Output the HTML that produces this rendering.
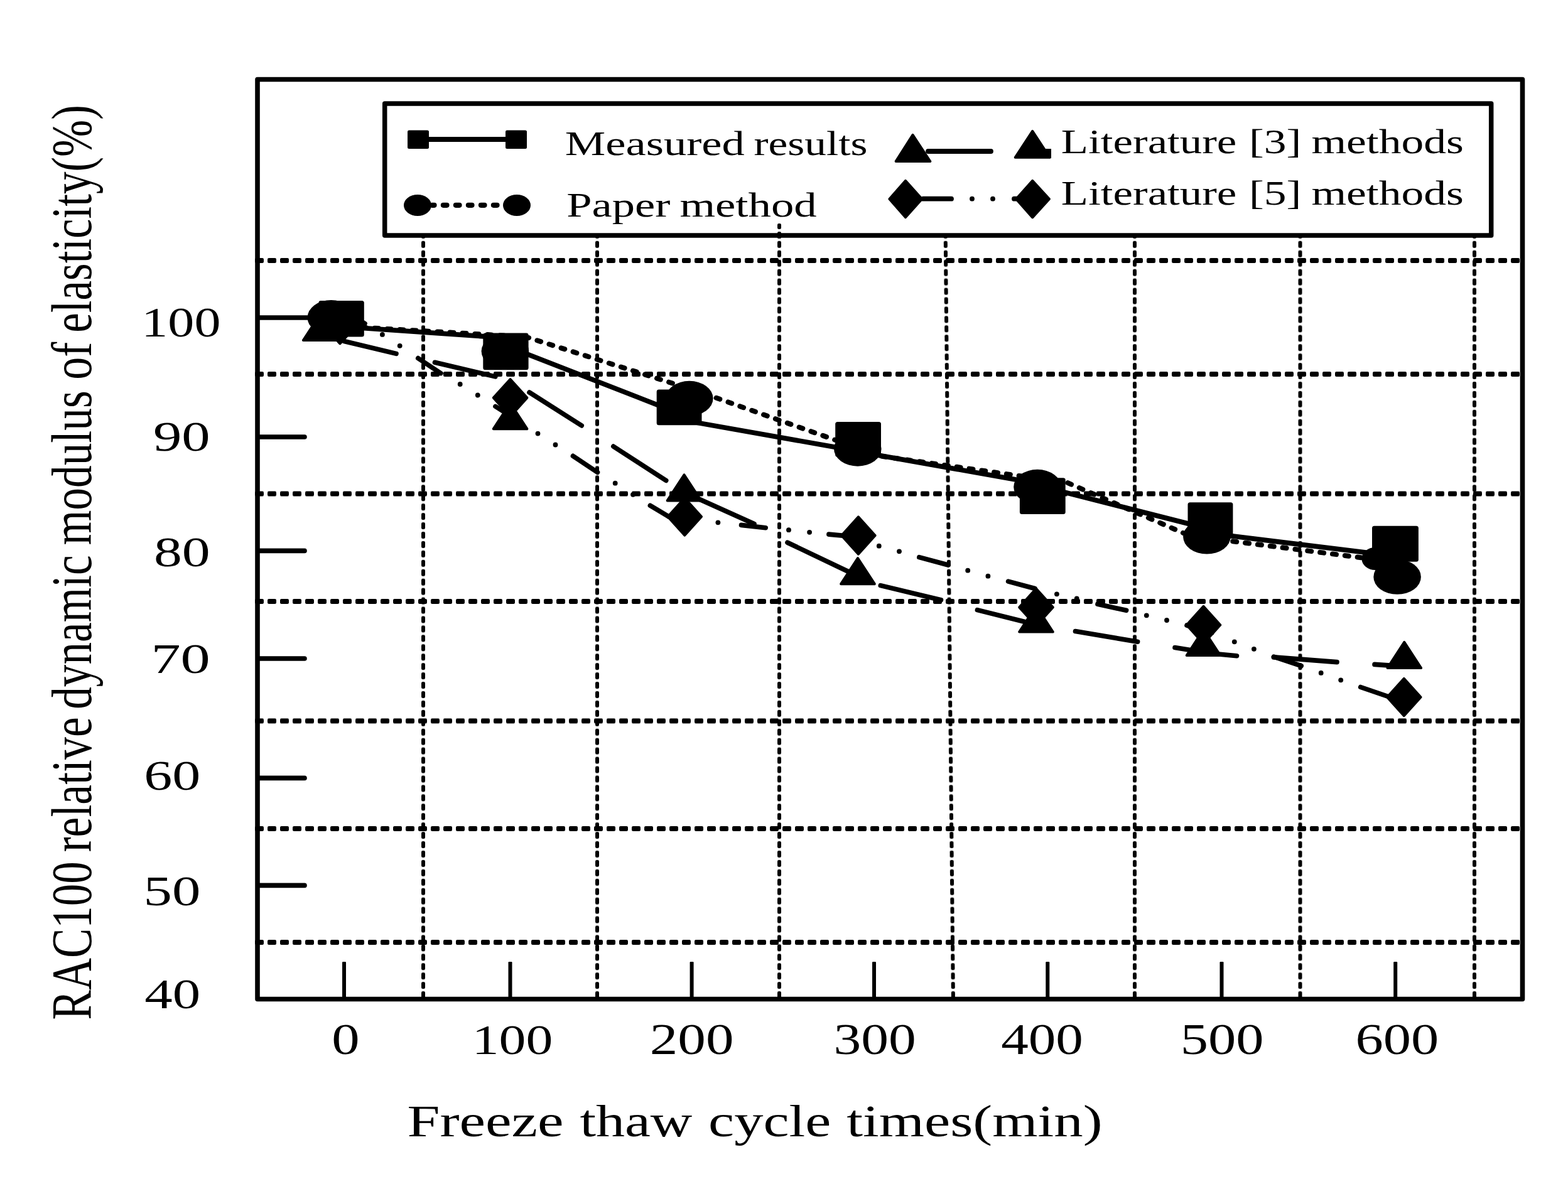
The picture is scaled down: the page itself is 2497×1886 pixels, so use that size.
<!DOCTYPE html>
<html><head><meta charset="utf-8"><title>RAC100 relative dynamic modulus of elasticity</title>
<style>html,body{margin:0;padding:0;background:#fff;} svg{display:block;}</style></head>
<body>
<svg width="2497" height="1886" viewBox="0 0 2497 1886"><defs><pattern id="h0" patternUnits="userSpaceOnUse" x="406" y="411" width="20" height="8"><rect x="0" y="0" width="14" height="8" rx="2.2"/></pattern><pattern id="h1" patternUnits="userSpaceOnUse" x="406" y="592" width="20" height="8"><rect x="0" y="0" width="14" height="8" rx="2.2"/></pattern><pattern id="h2" patternUnits="userSpaceOnUse" x="406" y="782.5" width="20" height="8"><rect x="0" y="0" width="14" height="8" rx="2.2"/></pattern><pattern id="h3" patternUnits="userSpaceOnUse" x="406" y="954" width="20" height="8"><rect x="0" y="0" width="14" height="8" rx="2.2"/></pattern><pattern id="h4" patternUnits="userSpaceOnUse" x="406" y="1144.4" width="20" height="8"><rect x="0" y="0" width="14" height="8" rx="2.2"/></pattern><pattern id="h5" patternUnits="userSpaceOnUse" x="406" y="1316" width="20" height="8"><rect x="0" y="0" width="14" height="8" rx="2.2"/></pattern><pattern id="h6" patternUnits="userSpaceOnUse" x="406" y="1497" width="20" height="8"><rect x="0" y="0" width="14" height="8" rx="2.2"/></pattern><pattern id="v0" patternUnits="userSpaceOnUse" x="671" y="354" width="6" height="14.94"><rect x="0" y="0" width="6" height="11" rx="2.2"/></pattern><pattern id="v1" patternUnits="userSpaceOnUse" x="948" y="354" width="6" height="14.94"><rect x="0" y="0" width="6" height="11" rx="2.2"/></pattern><pattern id="v2" patternUnits="userSpaceOnUse" x="1238" y="354" width="6" height="14.94"><rect x="0" y="0" width="6" height="11" rx="2.2"/></pattern><pattern id="v3" patternUnits="userSpaceOnUse" x="0" y="354" width="6" height="14.94" patternTransform="matrix(1,0,0.010049,1,1498.94,0)"><rect x="0" y="0" width="6" height="11" rx="2.2"/></pattern><pattern id="v4" patternUnits="userSpaceOnUse" x="1804" y="354" width="6" height="14.94"><rect x="0" y="0" width="6" height="11" rx="2.2"/></pattern><pattern id="v5" patternUnits="userSpaceOnUse" x="2067.5" y="354" width="6" height="14.94"><rect x="0" y="0" width="6" height="11" rx="2.2"/></pattern><pattern id="v6" patternUnits="userSpaceOnUse" x="2345" y="354" width="6" height="14.94"><rect x="0" y="0" width="6" height="11" rx="2.2"/></pattern></defs><rect width="100%" height="100%" fill="#fff"/><g fill="#000" stroke="none">
<rect x="406" y="411" width="2015" height="8" fill="url(#h0)"/>
<rect x="406" y="592" width="2015" height="8" fill="url(#h1)"/>
<rect x="406" y="782.5" width="2015" height="8" fill="url(#h2)"/>
<rect x="406" y="954" width="2015" height="8" fill="url(#h3)"/>
<rect x="406" y="1144.4" width="2015" height="8" fill="url(#h4)"/>
<rect x="406" y="1316" width="2015" height="8" fill="url(#h5)"/>
<rect x="406" y="1497" width="2015" height="8" fill="url(#h6)"/>
<rect x="671" y="354" width="6" height="1234" fill="url(#v0)"/>
<rect x="948" y="354" width="6" height="1234" fill="url(#v1)"/>
<rect x="1238" y="354" width="6" height="1234" fill="url(#v2)"/>
<path d="M1502.5,354 L1508.5,354 L1520.9,1588 L1514.9,1588 Z" fill="url(#v3)"/>
<rect x="1804" y="354" width="6" height="1234" fill="url(#v4)"/>
<rect x="2067.5" y="354" width="6" height="1234" fill="url(#v5)"/>
<rect x="2345" y="354" width="6" height="1234" fill="url(#v6)"/>
</g>
<g stroke="#000" fill="none">
<line x1="550" y1="520.61" x2="790" y2="537.17" stroke-width="7.8" stroke-linecap="round"/>
<line x1="830" y1="560.34" x2="1060" y2="650.04" stroke-width="7.8" stroke-linecap="round"/>
<line x1="1100" y1="671.52" x2="1345" y2="714.89" stroke-width="7.8" stroke-linecap="round"/>
<line x1="1390" y1="723.66" x2="1630" y2="766.14" stroke-width="7.8" stroke-linecap="round"/>
<line x1="1680" y1="780.22" x2="1905" y2="837.37" stroke-width="7.8" stroke-linecap="round"/>
<line x1="1950" y1="852.45" x2="2200" y2="883.2" stroke-width="7.8" stroke-linecap="round"/>
<line x1="527" y1="518.8" x2="837.2" y2="536.5" stroke-width="8" stroke-linecap="round" stroke-dasharray="6 14" stroke-dashoffset="-9.8"/>
<line x1="837.2" y1="536.5" x2="1109" y2="622.6" stroke-width="8" stroke-linecap="round" stroke-dasharray="6 14" stroke-dashoffset="0.9"/>
<line x1="1109" y1="622.6" x2="1402.5" y2="726.5" stroke-width="8" stroke-linecap="round" stroke-dasharray="6 14" stroke-dashoffset="6.4"/>
<line x1="1402.5" y1="726.5" x2="1700" y2="769" stroke-width="8" stroke-linecap="round" stroke-dasharray="6 14" stroke-dashoffset="-2.4"/>
<line x1="1700" y1="769" x2="1895" y2="853.6" stroke-width="8" stroke-linecap="round" stroke-dasharray="6 14" stroke-dashoffset="-0.5"/>
<line x1="1895" y1="853.6" x2="2200" y2="892.3" stroke-width="8" stroke-linecap="round" stroke-dasharray="6 14" stroke-dashoffset="-8.8"/>
<line x1="548" y1="543.5" x2="631" y2="563.4" stroke-width="7.6" stroke-linecap="round"/>
<line x1="692.5" y1="577.3" x2="788.8" y2="599.9" stroke-width="7.6" stroke-linecap="round"/>
<line x1="843" y1="625" x2="926.2" y2="677.9" stroke-width="7.6" stroke-linecap="round"/>
<line x1="976.8" y1="711.1" x2="1060.7" y2="765.4" stroke-width="7.6" stroke-linecap="round"/>
<line x1="1100" y1="789" x2="1201" y2="834.5" stroke-width="7.6" stroke-linecap="round"/>
<line x1="1254" y1="864.2" x2="1352" y2="911" stroke-width="7.6" stroke-linecap="round"/>
<line x1="1402.3" y1="932.6" x2="1498.5" y2="955.7" stroke-width="7.6" stroke-linecap="round"/>
<line x1="1556.4" y1="971.6" x2="1632" y2="990.5" stroke-width="7.6" stroke-linecap="round"/>
<line x1="1712.5" y1="1005.6" x2="1811.6" y2="1022.2" stroke-width="7.6" stroke-linecap="round"/>
<line x1="1871" y1="1031.6" x2="1905" y2="1037" stroke-width="7.6" stroke-linecap="round"/>
<line x1="1930" y1="1041" x2="1969.5" y2="1044.7" stroke-width="7.6" stroke-linecap="round"/>
<line x1="2028.4" y1="1046.9" x2="2129" y2="1054.6" stroke-width="7.6" stroke-linecap="round"/>
<line x1="2189" y1="1058.4" x2="2222" y2="1060.6" stroke-width="7.6" stroke-linecap="round"/>
<line x1="560" y1="502" x2="581" y2="515.5" stroke-width="7.6" stroke-linecap="round"/>
<line x1="665.8" y1="570.6" x2="701.9" y2="594.6" stroke-width="7.6" stroke-linecap="round"/>
<line x1="789" y1="647.4" x2="826" y2="670.9" stroke-width="7.6" stroke-linecap="round"/>
<line x1="912.5" y1="726.3" x2="951.5" y2="752.4" stroke-width="7.6" stroke-linecap="round"/>
<line x1="1035.4" y1="805.2" x2="1065.5" y2="823.3" stroke-width="7.6" stroke-linecap="round"/>
<line x1="1065.5" y1="823.3" x2="1075" y2="824.5" stroke-width="7.6" stroke-linecap="round"/>
<line x1="1180.5" y1="836.4" x2="1219.2" y2="840.7" stroke-width="7.6" stroke-linecap="round"/>
<line x1="1319.9" y1="851.1" x2="1362" y2="855" stroke-width="7.6" stroke-linecap="round"/>
<line x1="1463.8" y1="887.7" x2="1510" y2="900" stroke-width="7.6" stroke-linecap="round"/>
<line x1="1605.6" y1="926.1" x2="1648" y2="937.5" stroke-width="7.6" stroke-linecap="round"/>
<line x1="1748" y1="962.2" x2="1793.6" y2="972.3" stroke-width="7.6" stroke-linecap="round"/>
<line x1="1890" y1="996" x2="1930" y2="1008" stroke-width="7.6" stroke-linecap="round"/>
<line x1="2028.4" y1="1046.1" x2="2072.2" y2="1060.7" stroke-width="7.6" stroke-linecap="round"/>
<line x1="2166.7" y1="1094.5" x2="2212" y2="1110" stroke-width="7.6" stroke-linecap="round"/>
</g>
<g fill="#000">
<circle cx="608.9" cy="532.9" r="3.9"/>
<circle cx="636.7" cy="550.8" r="3.9"/>
<circle cx="732.7" cy="612" r="3.9"/>
<circle cx="760.8" cy="629.5" r="3.9"/>
<circle cx="856.5" cy="690.6" r="3.9"/>
<circle cx="884.5" cy="708.5" r="3.9"/>
<circle cx="979.7" cy="769.7" r="3.9"/>
<circle cx="1008" cy="787.8" r="3.9"/>
<circle cx="1107" cy="828" r="3.9"/>
<circle cx="1143.4" cy="832.3" r="3.9"/>
<circle cx="1256" cy="844.2" r="3.9"/>
<circle cx="1289.1" cy="847.8" r="3.9"/>
<circle cx="1399.8" cy="869.7" r="3.9"/>
<circle cx="1432" cy="878.3" r="3.9"/>
<circle cx="1541.2" cy="908.7" r="3.9"/>
<circle cx="1573.4" cy="917.7" r="3.9"/>
<circle cx="1682.9" cy="946.3" r="3.9"/>
<circle cx="1714.7" cy="953.5" r="3.9"/>
<circle cx="1825.8" cy="980.3" r="3.9"/>
<circle cx="1858" cy="988" r="3.9"/>
<circle cx="1965.8" cy="1022.3" r="3.9"/>
<circle cx="1996.9" cy="1033.8" r="3.9"/>
<circle cx="2103.7" cy="1071.9" r="3.9"/>
<circle cx="2135.2" cy="1083.3" r="3.9"/>
</g>
<g fill="#000" stroke="#000" stroke-width="2" stroke-linejoin="round">
<polygon points="482.89,542.1 509.7,500.96 536.51,542.1" stroke-width="4"/>
<polygon points="541.4,487.9 568.21,517.6 541.4,547.3 514.59,517.6" stroke-width="4"/>
<ellipse cx="527.3" cy="505.8" rx="37.8" ry="27.8" stroke="none"/>
<rect x="507.5" y="479" width="72.3" height="57.5" rx="3.5" stroke="none"/>
<polygon points="812.6,604 839.41,633.7 812.6,663.4 785.79,633.7" stroke-width="4"/>
<polygon points="785.79,683.2 812.6,642.06 839.41,683.2" stroke-width="4"/>
<ellipse cx="804.4" cy="559.5" rx="37.8" ry="27.8" stroke="none"/>
<rect x="769.3" y="530.6" width="72.3" height="58.7" rx="3.5" stroke="none"/>
<polygon points="1090.3,793.3 1117.11,823 1090.3,852.7 1063.49,823" stroke-width="4"/>
<polygon points="1062.69,797.4 1089.5,756.26 1116.31,797.4" stroke-width="4"/>
<ellipse cx="1097.8" cy="634.6" rx="37.8" ry="27.8" stroke="none"/>
<rect x="1045.7" y="620.4" width="71.8" height="56.9" rx="3.5" stroke="none"/>
<polygon points="1366.9,823.3 1393.71,853 1366.9,882.7 1340.09,853" stroke-width="4"/>
<polygon points="1339.19,930.2 1366,889.06 1392.81,930.2" stroke-width="4"/>
<ellipse cx="1365.8" cy="714.9" rx="37.8" ry="27.8" stroke="none"/>
<rect x="1330.2" y="672" width="72.8" height="55.7" rx="3.5" stroke="none"/>
<polygon points="1650,937.6 1676.81,967.3 1650,997 1623.19,967.3" stroke-width="4"/>
<polygon points="1623.19,1006.5 1650,965.36 1676.81,1006.5" stroke-width="4"/>
<ellipse cx="1652" cy="775.6" rx="37.8" ry="27.8" stroke="none"/>
<rect x="1623.9" y="761.2" width="72.8" height="57.8" rx="3.5" stroke="none"/>
<polygon points="1916.5,965.8 1943.31,995.5 1916.5,1025.2 1889.69,995.5" stroke-width="4"/>
<polygon points="1889.69,1044.1 1916.5,1002.96 1943.31,1044.1" stroke-width="4"/>
<rect x="1891.5" y="800.3" width="71.9" height="57.7" rx="3.5" stroke="none"/>
<ellipse cx="1921.9" cy="854.8" rx="37.8" ry="27.8" stroke="none"/>
<polygon points="2209.49,1064.1 2236.3,1022.96 2263.11,1064.1" stroke-width="4"/>
<polygon points="2235.8,1080.8 2262.61,1110.5 2235.8,1140.2 2208.99,1110.5" stroke-width="4"/>
<ellipse cx="2190" cy="890" rx="21.5" ry="18" stroke="none"/>
<rect x="2185" y="837.8" width="73.9" height="57" rx="3.5" stroke="none"/>
<ellipse cx="2225.1" cy="919" rx="37.8" ry="27.8" stroke="none"/>
</g>
<g fill="#000">
<rect x="410" y="126.5" width="2014.5" height="1465" fill="none" stroke="#000" stroke-width="7.6" stroke-linejoin="round"/>
</g>
<g stroke="#000" stroke-linecap="round" fill="none">
<line x1="412" y1="506" x2="492" y2="506" stroke-width="7.6"/>
<line x1="412" y1="696" x2="485" y2="696" stroke-width="7.6"/>
<line x1="412" y1="877.4" x2="485" y2="877.4" stroke-width="7.6"/>
<line x1="412" y1="1049" x2="485" y2="1049" stroke-width="7.6"/>
<line x1="412" y1="1239.4" x2="485" y2="1239.4" stroke-width="7.6"/>
<line x1="412" y1="1410.4" x2="485" y2="1410.4" stroke-width="7.6"/>
<rect x="545" y="1532" width="6" height="58" rx="1.2" fill="#000" stroke="none"/>
<rect x="809.5" y="1532" width="6" height="58" rx="1.2" fill="#000" stroke="none"/>
<rect x="1098.6" y="1532" width="6" height="58" rx="1.2" fill="#000" stroke="none"/>
<rect x="1389" y="1532" width="6" height="58" rx="1.2" fill="#000" stroke="none"/>
<rect x="1665.3" y="1532" width="6" height="58" rx="1.2" fill="#000" stroke="none"/>
<rect x="1942.5" y="1532" width="6" height="58" rx="1.2" fill="#000" stroke="none"/>
<rect x="2219.2" y="1532" width="6" height="58" rx="1.2" fill="#000" stroke="none"/>
</g>
<rect x="612.7" y="165" width="1762" height="210" fill="#fff" stroke="#000" stroke-width="7.5" stroke-linejoin="round"/>
<rect x="1238" y="356" width="6" height="9" rx="2.2" fill="#000"/><rect x="1238" y="369" width="6" height="11" rx="2.2" fill="#000"/>
<g fill="#000" stroke="#000" stroke-linejoin="round">
<line x1="683" y1="222" x2="805" y2="222" stroke-width="8"/>
<rect x="649" y="207.4" width="34" height="29.6" rx="2.5" stroke="none"/>
<rect x="805" y="207.4" width="34" height="29.6" rx="2.5" stroke="none"/>
<line x1="688" y1="326.8" x2="800" y2="326.8" stroke-width="8.2" stroke-linecap="round" stroke-dasharray="5.6 14.4" stroke-dashoffset="2.1"/>
<ellipse cx="665" cy="327" rx="22" ry="17" stroke="none"/>
<ellipse cx="823" cy="327" rx="22" ry="17" stroke="none"/>
<line x1="1478" y1="241" x2="1578" y2="241" stroke-width="7.8" stroke-linecap="round"/>
<polygon points="1426.65,257 1453.53,214.88 1481.29,257" stroke-width="4"/>
<polygon points="1616.7,250.8 1644.2,208.85 1671.7,250.8" stroke-width="4"/>
<rect x="1664" y="237" width="10" height="15" stroke="none"/>
<line x1="1470" y1="316.7" x2="1515" y2="316.7" stroke-width="7.8" stroke-linecap="round"/>
<circle cx="1548" cy="316.7" r="3.9" stroke="none"/><circle cx="1581" cy="316.7" r="3.9" stroke="none"/>
<line x1="1615" y1="316.7" x2="1625" y2="316.7" stroke-width="7.8" stroke-linecap="round"/>
<polygon points="1442.02,287.91 1468.21,317 1442.02,346.28 1416.36,317" stroke-width="4"/>
<polygon points="1644.22,287.88 1670.99,317 1644.22,346.31 1618.18,317" stroke-width="4"/>
</g>
<g font-family="&quot;Liberation Serif&quot;, serif" font-size="100" fill="#000">
<text transform="matrix(0.7254,0,0,0.5514,899.82,247.35)" x="0" y="0">Measured</text>
<text transform="matrix(0.6930,0,0,0.5514,1200.51,247.35)" x="0" y="0">results</text>
<text transform="matrix(0.7254,0,0,0.5478,902.22,344.80)" x="0" y="0">Paper</text>
<text transform="matrix(0.7279,0,0,0.5478,1082.44,344.80)" x="0" y="0">method</text>
<text transform="matrix(0.7090,0,0,0.5510,1689.87,243.80)" x="0" y="0">Literature</text>
<text transform="matrix(0.7147,0,0,0.5510,1989.00,243.80)" x="0" y="0">[3]</text>
<text transform="matrix(0.7150,0,0,0.5510,2088.47,243.80)" x="0" y="0">methods</text>
<text transform="matrix(0.7090,0,0,0.5510,1689.87,325.80)" x="0" y="0">Literature</text>
<text transform="matrix(0.7147,0,0,0.5510,1989.00,325.80)" x="0" y="0">[5]</text>
<text transform="matrix(0.7150,0,0,0.5510,2088.47,325.80)" x="0" y="0">methods</text>
<text transform="matrix(0.9354,0,0,0.7222,648.39,1809.83)" x="0" y="0">Freeze</text>
<text transform="matrix(0.9202,0,0,0.7222,923.38,1809.83)" x="0" y="0">thaw</text>
<text transform="matrix(0.9251,0,0,0.7222,1128.10,1809.83)" x="0" y="0">cycle</text>
<text transform="matrix(0.9286,0,0,0.7222,1348.17,1809.83)" x="0" y="0">times(min)</text>
<text transform="matrix(0.9011,0,0,0.7089,145.18,1624.43) rotate(-90)" x="0" y="0">RAC100</text>
<text transform="matrix(0.9011,0,0,0.7177,145.18,1357.34) rotate(-90)" x="0" y="0">relative</text>
<text transform="matrix(0.9011,0,0,0.7128,145.18,1129.85) rotate(-90)" x="0" y="0">dynamic</text>
<text transform="matrix(0.9011,0,0,0.7142,145.18,868.33) rotate(-90)" x="0" y="0">modulus</text>
<text transform="matrix(0.9011,0,0,0.7200,145.18,604.68) rotate(-90)" x="0" y="0">of</text>
<text transform="matrix(0.9011,0,0,0.7096,145.18,529.64) rotate(-90)" x="0" y="0">elasticity(%)</text>
<text transform="matrix(0.8409,0,0,0.6794,225.33,535.74)" x="0" y="0">100</text>
<text transform="matrix(0.9075,0,0,0.6761,243.98,718.05)" x="0" y="0">90</text>
<text transform="matrix(0.8978,0,0,0.6836,244.91,901.53)" x="0" y="0">80</text>
<text transform="matrix(0.9438,0,0,0.6836,240.39,1072.43)" x="0" y="0">70</text>
<text transform="matrix(0.9011,0,0,0.6836,229.30,1258.13)" x="0" y="0">60</text>
<text transform="matrix(0.9089,0,0,0.6761,228.55,1442.25)" x="0" y="0">50</text>
<text transform="matrix(0.8894,0,0,0.6851,230.32,1606.33)" x="0" y="0">40</text>
<text transform="matrix(0.8881,0,0,0.6940,528.35,1679.11)" x="0" y="0">0</text>
<text transform="matrix(0.8584,0,0,0.6838,751.67,1679.13)" x="0" y="0">100</text>
<text transform="matrix(0.8923,0,0,0.6940,1034.73,1679.11)" x="0" y="0">200</text>
<text transform="matrix(0.8752,0,0,0.6940,1327.52,1679.11)" x="0" y="0">300</text>
<text transform="matrix(0.8715,0,0,0.6940,1594.16,1679.11)" x="0" y="0">400</text>
<text transform="matrix(0.8857,0,0,0.6940,1879.69,1679.11)" x="0" y="0">500</text>
<text transform="matrix(0.8852,0,0,0.6940,2158.46,1679.11)" x="0" y="0">600</text>
</g></svg>
</body></html>
